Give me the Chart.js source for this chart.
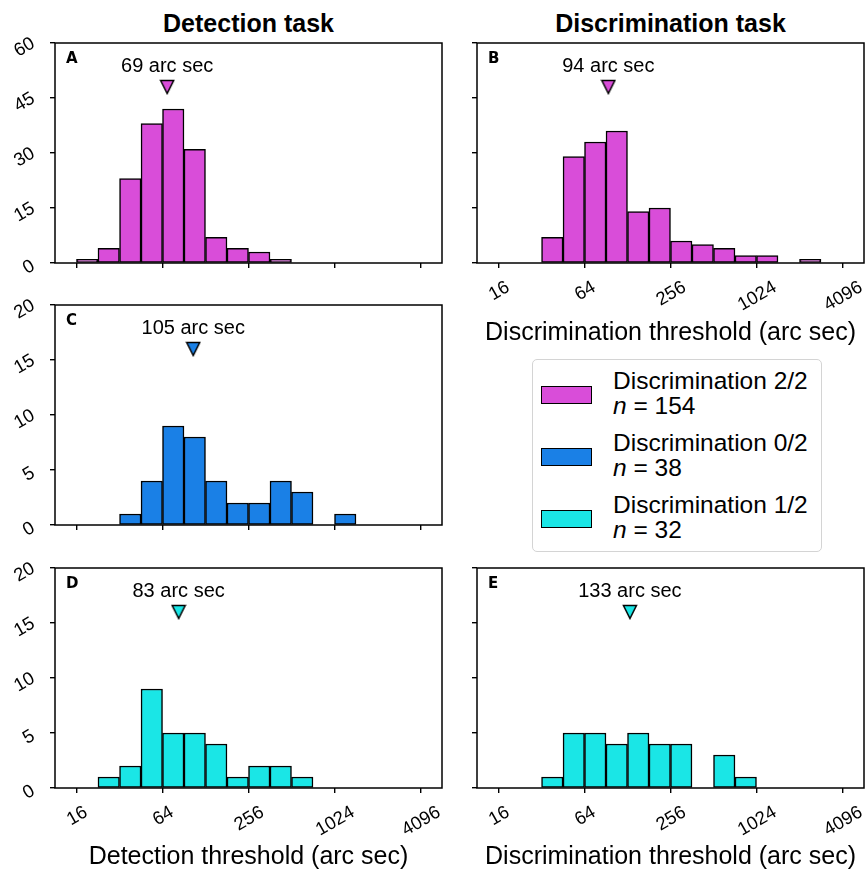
<!DOCTYPE html>
<html>
<head>
<meta charset="utf-8">
<script src="https://cdn.jsdelivr.net/npm/chart.js@4.4.1/dist/chart.umd.min.js"></script>
<style>
    body {
        margin: 0;
        background: #fff;
        width: 865px;
        height: 874px;
        position: relative;
        overflow: hidden;
        font-family: "Liberation Sans", Arial, sans-serif;
        color: #000;
    }
    canvas { position: absolute; }
    .col-title {
        position: absolute;
        top: 11px;
        width: 387px;
        text-align: center;
        font-weight: bold;
        font-size: 25px;
        line-height: 25px;
    }
    #legend {
        position: absolute;
        left: 532px;
        top: 359px;
        width: 290px;
        height: 193px;
        box-sizing: border-box;
        border: 1.5px solid #d4d4d4;
        border-radius: 5px;
        background: #fff;
    }
    .leg-patch {
        position: absolute;
        left: 8px;
        width: 51px;
        height: 18px;
        box-sizing: border-box;
        border: 1.5px solid #000;
    }
    .leg-text {
        position: absolute;
        left: 80px;
        font-size: 24.5px;
        line-height: 25px;
        white-space: nowrap;
    }
</style>
</head>
<body>

<div class="col-title" style="left:55px">Detection task</div>
<div class="col-title" style="left:477px">Discrimination task</div>

<canvas id="chart-a" width="444" height="250" style="left:0px; top:33px"></canvas>
<canvas id="chart-b" width="443" height="320" style="left:422px; top:33px"></canvas>
<canvas id="chart-c" width="444" height="250" style="left:0px; top:295px"></canvas>
<canvas id="chart-d" width="444" height="316" style="left:0px; top:558px"></canvas>
<canvas id="chart-e" width="443" height="316" style="left:422px; top:558px"></canvas>

<div id="legend"></div>

<script>
// bin edges in arc sec (half-octave bins)
const binEdges = [16, 22.6, 32, 45.3, 64, 90.5, 128, 181, 256, 362, 512, 724, 1024, 1448, 2048, 2896, 4096];

// counts per bin
const countsA = [1, 4, 23, 38, 42, 31, 7, 4, 3, 1, 0, 0, 0, 0, 0, 0];
const countsB = [0, 0, 7, 29, 33, 36, 14, 15, 6, 5, 4, 2, 2, 0, 1, 0];
const countsC = [0, 0, 1, 4, 9, 8, 4, 2, 2, 4, 3, 0, 1, 0, 0, 0];
const countsD = [0, 1, 2, 9, 5, 5, 4, 1, 2, 2, 1, 0, 0, 0, 0, 0];
const countsE = [0, 0, 1, 5, 5, 4, 5, 4, 4, 0, 3, 1, 0, 0, 0, 0];

// medians (arc sec)
const panelLetters = ["A", "B", "C", "D", "E"];
const medianArcSec = [69, 94, 105, 83, 133];

// ticks
const xTickValues = [16, 64, 256, 1024, 4096];
const xTickLabels = ["16", "64", "256", "1024", "4096"];
const yTicksTop = [0, 15, 30, 45, 60];
const yTicksLower = [0, 5, 10, 15, 20];

// legend
const legendNames = ["Discrimination 2/2", "Discrimination 0/2", "Discrimination 1/2"];
const legendCounts = [154, 38, 32];

const MAGENTA = "#d94dd9";
const BLUE = "#1a80e6";
const CYAN = "#1ae6e6";
const FONT = "'Liberation Sans', Arial, sans-serif";

const X_MIN = 3.5;   // log2 units
const X_MAX = 12.5;

function binCenter(i) {
    return (Math.log2(binEdges[i]) + Math.log2(binEdges[i + 1])) / 2;
}

// down triangle marker drawn once per color
function triangleMarker(color) {
    const c = document.createElement("canvas");
    c.width = 16;
    c.height = 16;
    const g = c.getContext("2d");
    g.beginPath();
    g.moveTo(1.5, 1.5);
    g.lineTo(14.5, 1.5);
    g.lineTo(8, 14.5);
    g.closePath();
    g.fillStyle = color;
    g.fill();
    g.lineWidth = 1.5;
    g.strokeStyle = "#000";
    g.stroke();
    return c;
}

// frame, tick labels, panel letter, median text
const panelDeco = {
    id: "panelDeco",
    afterDraw(chart) {
        const o = chart.options.plugins.panelDeco;
        const { ctx, chartArea } = chart;
        const xs = chart.scales.x;
        const ys = chart.scales.y;
        const fs = 18.5;
        const capH = 0.716 * fs;
        const ang = Math.PI / 6;

        ctx.save();
        ctx.strokeStyle = "#000";
        ctx.lineWidth = 1.5;
        ctx.strokeRect(chartArea.left, chartArea.top, chartArea.right - chartArea.left, chartArea.bottom - chartArea.top);

        ctx.fillStyle = "#000";
        ctx.font = `${fs}px ${FONT}`;
        ctx.textAlign = "center";
        ctx.textBaseline = "alphabetic";

        if (o.xLabels) {
            xTickValues.forEach((v, i) => {
                const w = ctx.measureText(xTickLabels[i]).width;
                const rotH = w * Math.sin(ang) + capH * Math.cos(ang);
                const px = xs.getPixelForValue(Math.log2(v));
                const py = chartArea.bottom + 16 + rotH / 2;
                ctx.save();
                ctx.translate(px, py);
                ctx.rotate(-ang);
                ctx.fillText(xTickLabels[i], 0, capH / 2);
                ctx.restore();
            });
        }

        if (o.yLabels) {
            o.yTicks.forEach(v => {
                const label = String(v);
                const w = ctx.measureText(label).width;
                const rotW = w * Math.cos(ang) + capH * Math.sin(ang);
                const px = chartArea.left - 19 - rotW / 2;
                const py = ys.getPixelForValue(v) + 3;
                ctx.save();
                ctx.translate(px, py);
                ctx.rotate(-ang);
                ctx.fillText(label, 0, capH / 2);
                ctx.restore();
            });
        }

        // panel letter
        ctx.font = `bold 15px 'DejaVu Sans', sans-serif`;
        ctx.textAlign = "left";
        ctx.fillText(o.letter, chartArea.left + 11, chartArea.top + 20);

        // median label
        const afs = 20;
        ctx.font = `${afs}px ${FONT}`;
        ctx.textAlign = "center";
        const tx = xs.getPixelForValue(Math.log2(o.median));
        const ty = ys.getPixelForValue(0.9 * o.yMax);
        ctx.fillText(`${o.median} arc sec`, tx, ty + 0.716 * afs / 2);
        ctx.restore();
    }
};

function makePanel(canvasId, idx, counts, color, yTicks, opts) {
    const yMax = yTicks[yTicks.length - 1];
    const median = medianArcSec[idx];
    const barData = counts.map((c, i) => ({ x: binCenter(i), y: c }));

    const gridOpts = {
        display: true,
        drawOnChartArea: false,
        drawTicks: true,
        tickLength: 5,
        color: "#000",
        lineWidth: 1.4,
        offset: false
    };

    return new Chart(document.getElementById(canvasId).getContext("2d"), {
        type: "bar",
        data: {
            datasets: [
                {
                    type: "bar",
                    data: barData,
                    backgroundColor: color,
                    borderColor: "#000",
                    borderWidth: 1.5,
                    borderSkipped: false,
                    barPercentage: 1,
                    categoryPercentage: 1,
                    order: 2
                },
                {
                    type: "line",
                    data: [{ x: Math.log2(median), y: 0.8 * yMax }],
                    showLine: false,
                    pointStyle: triangleMarker(color),
                    pointRadius: 8,
                    order: 1
                }
            ]
        },
        options: {
            responsive: false,
            animation: false,
            devicePixelRatio: 1,
            events: [],
            layout: {
                autoPadding: false,
                padding: { top: 10, right: opts.padRight, left: 0, bottom: opts.padBottom || 0 }
            },
            plugins: {
                legend: { display: false },
                tooltip: { enabled: false },
                panelDeco: {
                    letter: panelLetters[idx],
                    median: median,
                    yMax: yMax,
                    yTicks: yTicks,
                    xLabels: opts.xLabels,
                    yLabels: opts.yLabels
                }
            },
            scales: {
                x: {
                    type: "linear",
                    min: X_MIN,
                    max: X_MAX,
                    offset: false,
                    afterBuildTicks: s => { s.ticks = xTickValues.map(v => ({ value: Math.log2(v) })); },
                    afterFit: s => { s.height = opts.xHeight; },
                    ticks: { display: false },
                    grid: gridOpts,
                    border: { display: false },
                    title: {
                        display: !!opts.xTitle,
                        text: opts.xTitle || "",
                        color: "#000",
                        font: { size: 25, family: FONT },
                        padding: { top: 0, bottom: opts.titlePad || 0 }
                    }
                },
                y: {
                    type: "linear",
                    min: 0,
                    max: yMax,
                    afterBuildTicks: s => { s.ticks = yTicks.map(v => ({ value: v })); },
                    afterFit: s => { s.width = 55; },
                    ticks: { display: false },
                    grid: gridOpts,
                    border: { display: false }
                }
            }
        },
        plugins: [panelDeco]
    });
}

makePanel("chart-a", 0, countsA, MAGENTA, yTicksTop, { padRight: 2, padBottom: 12, xHeight: 8, xLabels: false, yLabels: true });
makePanel("chart-b", 1, countsB, MAGENTA, yTicksTop, { padRight: 1, xHeight: 90, xLabels: true, yLabels: false,
    xTitle: "Discrimination threshold (arc sec)", titlePad: 5 });
makePanel("chart-c", 2, countsC, BLUE, yTicksLower, { padRight: 2, padBottom: 12, xHeight: 8, xLabels: false, yLabels: true });
makePanel("chart-d", 3, countsD, CYAN, yTicksLower, { padRight: 2, xHeight: 86, xLabels: true, yLabels: true,
    xTitle: "Detection threshold (arc sec)", titlePad: 2 });
makePanel("chart-e", 4, countsE, CYAN, yTicksLower, { padRight: 1, xHeight: 86, xLabels: true, yLabels: false,
    xTitle: "Discrimination threshold (arc sec)", titlePad: 2 });

// legend
function renderLegend() {
    const legend = document.getElementById("legend");
    const colors = [MAGENTA, BLUE, CYAN];
    let html = "";
    legendNames.forEach((name, i) => {
        const patchTop = 26 + i * 62;
        html += `<div class="leg-patch" style="top:${patchTop}px; background:${colors[i]}"></div>`;
        html += `<div class="leg-text" style="top:${patchTop - 18}px">${name}<br><i>n</i> = ${legendCounts[i]}</div>`;
    });
    legend.innerHTML = html;
}

renderLegend();
</script>
</body>
</html>
